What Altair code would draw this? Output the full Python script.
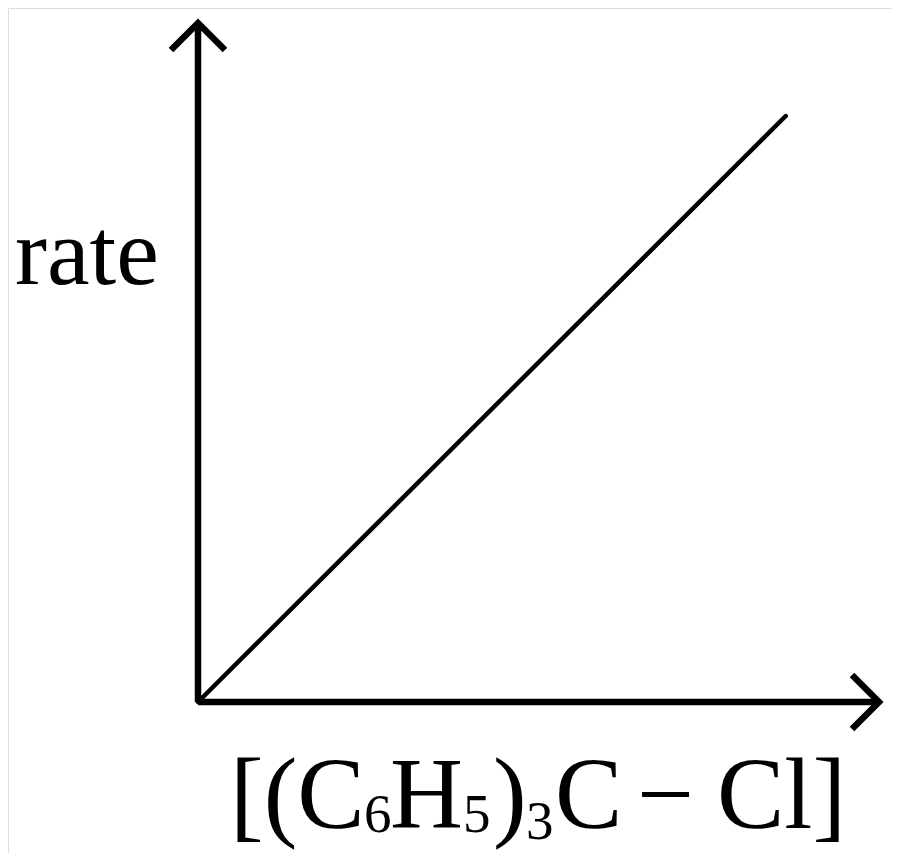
import altair as alt
import pandas as pd

# ---- data ----
conc = [0.0, 0.863]          # [(C6H5)3C-Cl]  (arbitrary units)
rate = [0.0, 0.863]          # rate (arbitrary units), first order
axis_min = [0.0]
axis_max = [1.0]
y_title = "rate"
x_title_parts = ["[(C", "6", "H", "5", ")", "3", "C", "\u2212", "Cl]"]
x_title_is_sub = [False, True, False, True, False, True, False, False, False]

FONT = "Liberation Serif"
MAIN = 101
SUB = 55

xs = alt.Scale(domain=[0, 1], range=[190, 871])
ys = alt.Scale(domain=[0, 1], range=[694, 15])

line_df = pd.DataFrame({"conc": conc, "rate": rate})
ax_df = pd.DataFrame({"lo": axis_min, "hi": axis_max})

diag = alt.Chart(line_df).mark_line(color="black", strokeWidth=4.5, strokeCap="round").encode(
    x=alt.X("conc:Q", scale=xs, axis=None),
    y=alt.Y("rate:Q", scale=ys, axis=None),
)

y_axis = alt.Chart(ax_df).mark_rule(color="black", strokeWidth=6.5).encode(
    x=alt.X("lo:Q", scale=xs, axis=None),
    y=alt.Y("lo:Q", scale=ys, axis=None),
    y2="hi:Q",
)
x_axis = alt.Chart(ax_df).mark_rule(color="black", strokeWidth=6.5).encode(
    y=alt.Y("lo:Q", scale=ys, axis=None),
    x=alt.X("lo:Q", scale=xs, axis=None),
    x2="hi:Q",
)

y_arrow = alt.Chart(ax_df).mark_point(
    shape="M -1 1 L 0 0 L 1 1", size=2916, filled=False, stroke="black",
    strokeWidth=6.5, opacity=1, strokeJoin="miter",
).encode(
    x=alt.X("lo:Q", scale=xs, axis=None),
    y=alt.Y("hi:Q", scale=ys, axis=None),
)
x_arrow = alt.Chart(ax_df).mark_point(
    shape="M -1 -1 L 0 0 L -1 1", size=2916, filled=False, stroke="black",
    strokeWidth=6.5, opacity=1, strokeJoin="miter",
).encode(
    x=alt.X("hi:Q", scale=xs, axis=None),
    y=alt.Y("lo:Q", scale=ys, axis=None),
)

base_txt = alt.Chart(pd.DataFrame({"k": [0]}))

layers = [diag, y_axis, x_axis, y_arrow, x_arrow]

layers.append(
    base_txt.mark_text(text=y_title, font=FONT, fontSize=96, align="left",
                       baseline="alphabetic", color="black").encode(
        x=alt.value(7), y=alt.value(276))
)

# x positions (pixels) and baselines for each title piece
x_pos = [222, 356, 382, 455, 485, 518, 547, 629, 709]
y_pos = [820, 824, 820, 824, 820, 831, 820, 820, 820]
for part, sub, px, py in zip(x_title_parts, x_title_is_sub, x_pos, y_pos):
    layers.append(
        base_txt.mark_text(text=part, font=FONT, fontSize=SUB if sub else MAIN,
                           align="left", baseline="alphabetic", color="black").encode(
            x=alt.value(px), y=alt.value(py))
    )

chart = alt.layer(*layers).properties(
    width=884, height=845,
    autosize=alt.AutoSizeParams(type="none"),
    padding={"left": 0, "right": 0, "top": 0, "bottom": 0},
).configure_view(strokeWidth=0, strokeOpacity=0).configure(background="transparent")

chart.save("out.html", embed_options={"renderer": "svg", "actions": False})
